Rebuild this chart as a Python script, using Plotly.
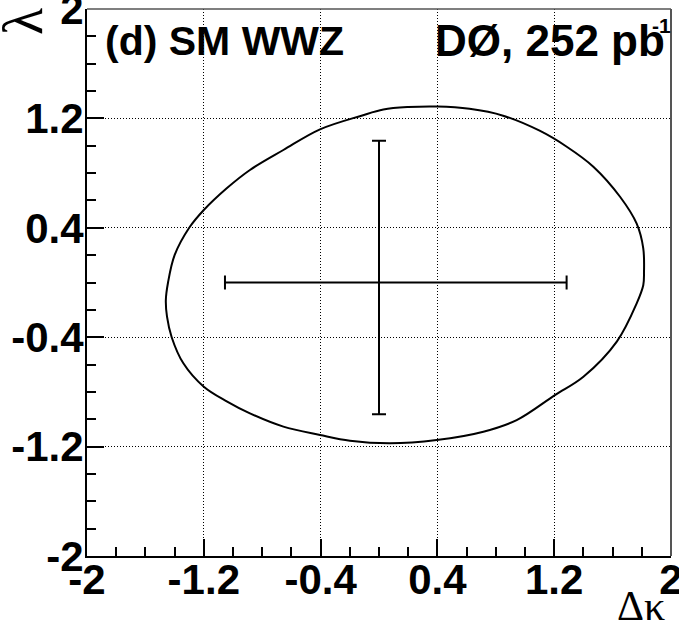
import plotly.graph_objects as go

# Contour (95% C.L.): (Delta kappa, lambda)
contour_dk = [1.815, 1.81, 1.765, 1.651, 1.468, 1.286, 1.10, 0.85, 0.62, 0.40, 0.20, 0.03, -0.12,
              -0.404, -0.655, -0.884, -1.043, -1.2, -1.30, -1.40, -1.445, -1.46, -1.452, -1.42,
              -1.34, -1.2, -1.043, -0.884, -0.655, -0.404, -0.199, 0.075, 0.395, 0.715, 0.943,
              1.205, 1.40, 1.63, 1.765, 1.81, 1.815]
contour_lam = [0.07, 0.25, 0.43, 0.627, 0.847, 0.993, 1.11, 1.22, 1.27, 1.287, 1.283, 1.265, 1.22,
               1.12, 0.969, 0.823, 0.689, 0.53, 0.40, 0.20, 0.0, -0.128, -0.25, -0.4,
               -0.591, -0.762, -0.869, -0.957, -1.054, -1.115, -1.157, -1.176, -1.152, -1.091, -1.006,
               -0.823, -0.689, -0.43, -0.152, -0.02, 0.07]

# 1D limits (central value with asymmetric errors)
point_dk = [0.0]
point_lam = [0.0]
dk_err_plus = [1.285]
dk_err_minus = [1.055]
lam_err_plus = [1.037]
lam_err_minus = [0.964]

tick_vals = [-2, -1.2, -0.4, 0.4, 1.2, 2]
tick_text = ["-2", "-1.2", "-0.4", "0.4", "1.2", "2"]

fig = go.Figure()
fig.add_trace(go.Scatter(
    x=contour_dk, y=contour_lam, mode="lines",
    line=dict(color="black", width=2, shape="spline", smoothing=1.0),
    hoverinfo="skip", showlegend=False))
fig.add_trace(go.Scatter(
    x=point_dk, y=point_lam, mode="markers",
    marker=dict(size=1, color="black"),
    error_x=dict(type="data", symmetric=False, array=dk_err_plus, arrayminus=dk_err_minus,
                 color="black", thickness=2, width=7),
    error_y=dict(type="data", symmetric=False, array=lam_err_plus, arrayminus=lam_err_minus,
                 color="black", thickness=2, width=7),
    showlegend=False))

axis_common = dict(
    range=[-2, 2], tickvals=tick_vals, ticktext=tick_text,
    ticks="inside", ticklen=17, tickwidth=1.5, tickcolor="black",
    minor=dict(ticks="inside", ticklen=9, tickwidth=1.5, tickcolor="black", dtick=0.2, tick0=-2,
               showgrid=False),
    showgrid=True, gridcolor="black", gridwidth=1, griddash="1px,2px",
    zeroline=False, showline=True, linecolor="black", linewidth=2,
    tickfont=dict(family="Liberation Sans", size=42, color="black", weight="bold"),
    ticklabeloverflow="allow", automargin=False,
    fixedrange=True,
)

fig.update_layout(
    width=679, height=627,
    margin=dict(l=87, r=8, t=9, b=71, autoexpand=False),
    paper_bgcolor="white", plot_bgcolor="white",
    xaxis=dict(**axis_common, ticklabelstandoff=-14),
    yaxis=dict(**axis_common, ticklabelstandoff=-7),
    font=dict(family="Liberation Sans", color="black"),
    shapes=[
        dict(type="line", xref="paper", yref="paper", x0=0, x1=1, y0=1, y1=1,
             line=dict(color="#555555", width=1.5)),
        dict(type="line", xref="paper", yref="paper", x0=1, x1=1, y0=0, y1=1,
             line=dict(color="#555555", width=2)),
    ],
    annotations=[
        dict(text="(d) SM WWZ", x=-1.89, y=1.766, xref="x", yref="y", xanchor="left", yanchor="middle",
             showarrow=False, font=dict(family="Liberation Sans", size=41, color="black", weight="bold")),
        dict(text="DØ, 252 pb", x=(667 - 87) / 584, y=1.77, xref="paper", yref="y", xanchor="right",
             yanchor="middle", showarrow=False,
             font=dict(family="Liberation Sans", size=44, color="black", weight="bold")),
        dict(text="-1", x=(673 - 87) / 584, y=(556 - 25) / 547, xref="paper", yref="paper",
             xanchor="right", yanchor="middle", showarrow=False,
             font=dict(family="Liberation Sans", size=21, color="black", weight="bold")),
        dict(text="Δκ", x=(667 - 87) / 584, y=(556 - 606) / 547, xref="paper", yref="paper",
             xanchor="right", yanchor="middle", showarrow=False,
             font=dict(family="Liberation Serif", size=42, color="black")),
        dict(text="λ", x=(23 - 87) / 584, y=(556 - 22) / 547, xref="paper", yref="paper",
             xanchor="center", yanchor="middle", textangle=-90, showarrow=False,
             font=dict(family="Liberation Serif", size=56, color="black")),
    ],
)

fig.write_html("out.html")
